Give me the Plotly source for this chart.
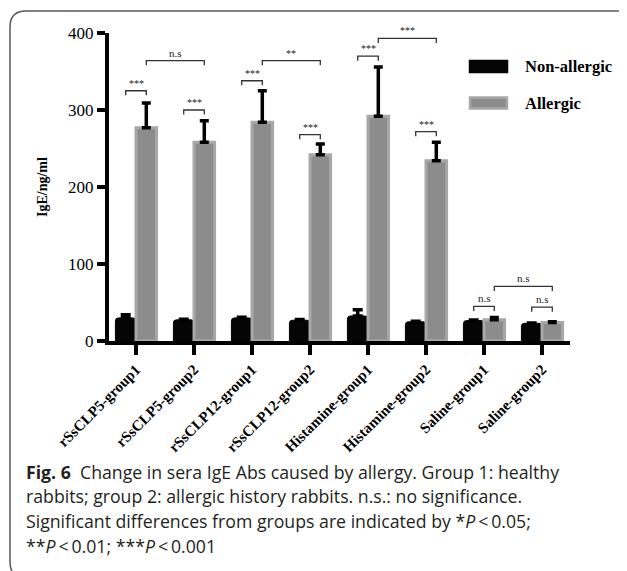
import plotly.graph_objects as go

categories = ["rSsCLP5-group1", "rSsCLP5-group2", "rSsCLP12-group1", "rSsCLP12-group2",
              "Histamine-group1", "Histamine-group2", "Saline-group1", "Saline-group2"]
non_allergic = [30, 27.5, 30, 27, 32.5, 25, 26.5, 23]
non_allergic_err = [4, 0.8, 0.8, 0.8, 8, 0.8, 0.8, 0.5]
allergic = [277, 258, 284, 242, 292, 234, 27.5, 24]
allergic_err = [32, 28, 41, 14, 64, 24, 3, 1]

y_ticks = [0, 100, 200, 300, 400]

# significance brackets: (group, series) start -> (group, series) end ; series 0 = non-allergic, 1 = allergic
bracket_g0 = [0, 0, 1, 2, 2, 3, 4, 4, 5, 6, 6, 7]
bracket_s0 = [0, 1, 0, 0, 1, 0, 0, 1, 0, 0, 1, 0]
bracket_g1 = [0, 1, 1, 2, 3, 3, 4, 5, 5, 6, 7, 7]
bracket_s1 = [1, 1, 1, 1, 1, 1, 1, 1, 1, 1, 1, 1]
bracket_y = [325, 364, 300, 338, 364, 268, 370, 393, 272, 45, 71, 44]
bracket_label = ["***", "n.s", "***", "***", "**", "***", "***", "***", "***", "n.s", "n.s", "n.s"]

caption_lines = [
    "<b>Fig. 6</b>  Change in sera IgE Abs caused by allergy. Group 1: healthy",
    "rabbits; group 2: allergic history rabbits. n.s.: no significance.",
    "Significant differences from groups are indicated by *<i>P</i>\u2009<\u20090.05;",
    "**<i>P</i>\u2009<\u20090.01; ***<i>P</i>\u2009<\u20090.001",
]

# page offset (body margin) compensation
OFS = 8
W, H = 627 - OFS, 571 - OFS
ML, MT = 101, 25
PW, PH = 461, 308
MR, MB = W - ML - PW, H - MT - PH
BARGAP = 0.29
OFF = (1 - BARGAP) / 4
X_LO, X_HI = -27 / 58, 7 + 28 / 58

def px(xp):
    return (xp - OFS - ML) / PW

def py(yp):
    return (MT + PH - (yp - OFS)) / PH

SERIF = "Liberation Serif"
xs = list(range(len(categories)))

fig = go.Figure()
fig.add_trace(go.Bar(
    x=xs, y=non_allergic, name="Non-allergic",
    marker=dict(color="#050505", line=dict(color="#050505", width=1), cornerradius=3),
    error_y=dict(type="data", array=non_allergic_err, symmetric=False, arrayminus=[0]*8,
                 color="#000000", thickness=3.5, width=5),
))
fig.add_trace(go.Bar(
    x=xs, y=allergic, name="Allergic",
    marker=dict(color="#8c8c8c", line=dict(color="#a8a8a8", width=3)),
    error_y=dict(type="data", array=allergic_err, symmetric=False, arrayminus=[0]*8,
                 color="#000000", thickness=3.5, width=4.5),
))

shapes = []
annotations = []
LEG = 6
for g0, s0, g1, s1, yb, lab in zip(bracket_g0, bracket_s0, bracket_g1, bracket_s1, bracket_y, bracket_label):
    x0 = g0 + (OFF if s0 else -OFF)
    x1 = g1 + (OFF if s1 else -OFF)
    shapes.append(dict(type="path", xref="x", yref="y",
                       path=f"M {x0},{yb-LEG} L {x0},{yb} L {x1},{yb} L {x1},{yb-LEG}",
                       line=dict(color="#333333", width=1.3)))
    annotations.append(dict(x=(x0 + x1) / 2, y=yb, xref="x", yref="y", text=lab,
                            showarrow=False, yanchor="bottom", yshift=0,
                            font=dict(family=SERIF, size=11 if lab == "n.s" else 10, color="#222222")))

# legend (manual)
leg_items = [("Non-allergic", "#050505", "#050505", 66.5), ("Allergic", "#8c8c8c", "#a8a8a8", 103)]
for name, fc, lc, yc in leg_items:
    shapes.append(dict(type="rect", xref="paper", yref="paper",
                       x0=px(470), x1=px(507), y0=py(yc + 5.5), y1=py(yc - 5.5),
                       fillcolor=fc, line=dict(color=lc, width=2.5)))
    annotations.append(dict(x=px(523), y=py(yc), xref="paper", yref="paper", text=f"<b>{name}</b>",
                            showarrow=False, xanchor="left", yanchor="middle",
                            font=dict(family=SERIF, size=16.5, color="#000000")))

# y-axis title
annotations.append(dict(x=px(42), y=py(187), xref="paper", yref="paper", text="<b>IgE/ng/ml</b>",
                        showarrow=False, textangle=-90, xanchor="center", yanchor="middle",
                        font=dict(family=SERIF, size=14, color="#000000")))

# caption
for i, line in enumerate(caption_lines):
    annotations.append(dict(x=px(24), y=py(471.5 + i * 24.8), xref="paper", yref="paper", text=line,
                            showarrow=False, xanchor="left", yanchor="middle",
                            font=dict(family="Open Sans", size=17.7, color="#231f20")))

# outer rounded frame
r = 16
fx0, fy0, fx1, fy1 = 10, 11, 650, 578
frame = (f"M {px(fx1)},{py(fy0)} L {px(fx0 + r)},{py(fy0)} "
         f"Q {px(fx0)},{py(fy0)} {px(fx0)},{py(fy0 + r)} "
         f"L {px(fx0)},{py(fy1 - r)} Q {px(fx0)},{py(fy1)} {px(fx0 + r)},{py(fy1)} "
         f"L {px(fx1)},{py(fy1)}")
shapes.append(dict(type="path", xref="paper", yref="paper", path=frame,
                   line=dict(color="#5a5a5a", width=1.5)))

fig.update_layout(
    width=W, height=H,
    margin=dict(l=ML, r=MR, t=MT, b=MB),
    paper_bgcolor="white", plot_bgcolor="white",
    barmode="group", bargap=BARGAP, bargroupgap=0,
    showlegend=False,
    shapes=shapes, annotations=annotations,
    xaxis=dict(range=[X_LO, X_HI], tickvals=xs, ticktext=[f"<b>{c}</b>" for c in categories],
               tickangle=-45,
               showline=True, linecolor="#000000", linewidth=4,
               ticks="outside", ticklen=10, tickwidth=4, tickcolor="#000000",
               showgrid=False, zeroline=False,
               tickfont=dict(family=SERIF, size=15, color="#000000")),
    yaxis=dict(range=[0, 400], tickvals=y_ticks, showline=True, linecolor="#000000", linewidth=4,
               ticks="outside", ticklen=8, tickwidth=4, tickcolor="#000000",
               showgrid=False, zeroline=False,
               tickfont=dict(family=SERIF, size=17, color="#000000"),
               tickprefix="<b>", ticksuffix="</b>"),
)

fig.write_html("out.html")
